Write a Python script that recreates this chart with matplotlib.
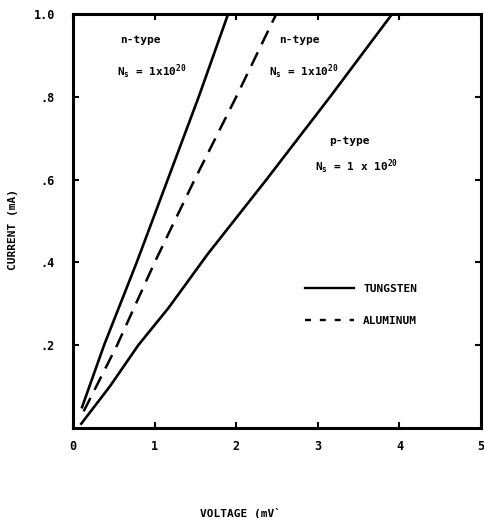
import matplotlib
matplotlib.use("Agg")
import matplotlib.pyplot as plt
from matplotlib.lines import Line2D

plt.rcParams['font.family'] = 'DejaVu Sans Mono'
plt.rcParams['font.weight'] = 'bold'
plt.rcParams['axes.labelweight'] = 'bold'
plt.rcParams['mathtext.fontset'] = 'custom'
plt.rcParams['mathtext.rm'] = 'DejaVu Sans Mono:bold'
plt.rcParams['mathtext.it'] = 'DejaVu Sans Mono:bold'
plt.rcParams['mathtext.bf'] = 'DejaVu Sans Mono:bold'

# I-V curves (voltage in mV, current in mA)
n_tungsten_v = [0.11, 0.38, 0.78, 1.16, 1.54, 1.90]
n_tungsten_i = [0.05, 0.20, 0.40, 0.60, 0.80, 1.00]

n_aluminum_v = [0.13, 0.54, 1.00, 1.49, 2.00, 2.49]
n_aluminum_i = [0.04, 0.20, 0.40, 0.60, 0.80, 1.00]

p_tungsten_v = [0.10, 0.45, 0.80, 1.17, 1.65, 2.37, 3.15, 3.91]
p_tungsten_i = [0.01, 0.10, 0.20, 0.29, 0.42, 0.60, 0.80, 1.00]

x_ticks = [0, 1, 2, 3, 4, 5]
y_ticks = [0.2, 0.4, 0.6, 0.8, 1.0]
y_tick_labels = ['.2', '.4', '.6', '.8', '1.0']

fig = plt.figure(figsize=(4.84, 5.18), dpi=100)
ax = fig.add_axes([0.151, 0.174, 0.843, 0.799])

dash = (0, (6.0, 3.6))
ax.plot(n_tungsten_v, n_tungsten_i, color='black', lw=1.9)
ax.plot(n_aluminum_v, n_aluminum_i, color='black', lw=1.8, linestyle=dash)
ax.plot(p_tungsten_v, p_tungsten_i, color='black', lw=1.9)

ax.set_xlim(0, 5)
ax.set_ylim(0, 1.0)
ax.set_xticks(x_ticks)
ax.set_yticks(y_ticks)
ax.set_yticklabels(y_tick_labels)
ax.tick_params(direction='in', length=4, width=1.5, labelsize=8.5,
               top=True, right=True, pad=9)
ax.tick_params(axis='y', pad=13)
for s in ax.spines.values():
    s.set_linewidth(2.2)

ax.set_xlabel('VOLTAGE (mV`', fontsize=8)
ax.set_ylabel('CURRENT (mA)', fontsize=8)
ax.xaxis.set_label_coords(0.41, -0.193)
ax.yaxis.set_label_coords(-0.135, 0.48)

# curve annotations
tk = dict(fontsize=8, color='black')
ax.text(0.58, 0.93, 'n-type', **tk)
ax.text(0.54, 0.85, r'N$_s$ = 1x10$^{20}$', **tk)
ax.text(2.52, 0.93, 'n-type', **tk)
ax.text(2.40, 0.85, r'N$_s$ = 1x10$^{20}$', **tk)
ax.text(3.14, 0.685, 'p-type', **tk)
ax.text(2.96, 0.62, r'N$_s$ = 1 x 10$^{20}$', **tk)

handles = [Line2D([], [], color='black', lw=1.7),
           Line2D([], [], color='black', lw=1.7, linestyle=(0, (2.5, 3.8)))]
ax.legend(handles, ['TUNGSTEN', 'ALUMINUM'], loc='upper left',
          bbox_to_anchor=(0.545, 0.372), frameon=False, fontsize=8,
          handlelength=4.4, handletextpad=0.8, labelspacing=2.0)

fig.savefig('out.png', dpi=100)
